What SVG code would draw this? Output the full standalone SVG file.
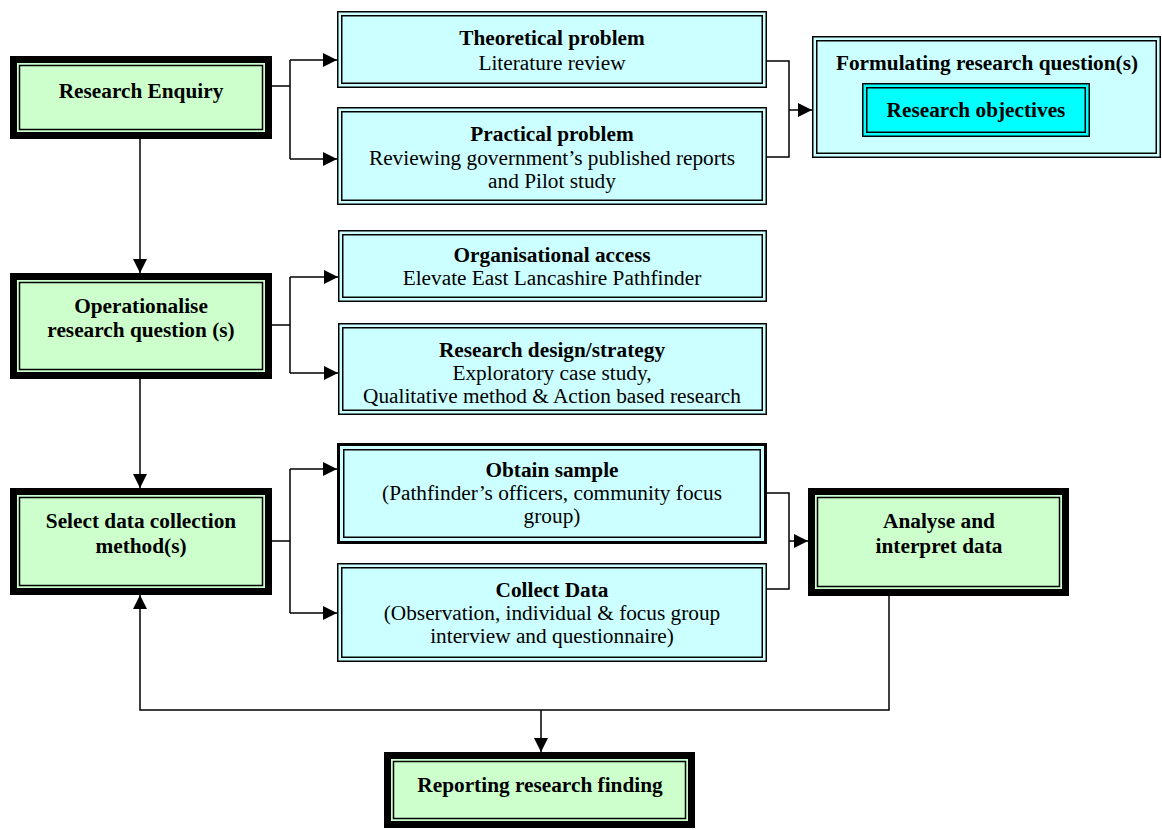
<svg xmlns="http://www.w3.org/2000/svg" width="1162" height="830" viewBox="0 0 1162 830">
  <style>
    .g-out { fill: #CCFFCC; stroke: #000; stroke-width: 7; }
    .g-in { fill: none; stroke: #000; stroke-width: 1.5; }
    .c-out { fill: #CCFFFF; stroke: #000; stroke-width: 1.5; }
    .c-out-heavy { fill: #CCFFFF; stroke: #000; stroke-width: 3; }
    .c-in { fill: none; stroke: #000; stroke-width: 1.5; }
    .obj { fill: #00FFFF; stroke: #000; stroke-width: 1.5; }
    .wire { fill: none; stroke: #000; stroke-width: 1.5; }
    .t { font-family: "Liberation Serif", "Times New Roman", serif; font-size: 21.3px; text-anchor: middle; fill: #000; }
    .b { font-weight: bold; }
  </style>
  <defs>
    <marker id="arrow" markerUnits="userSpaceOnUse" markerWidth="14" markerHeight="14" refX="14" refY="7" orient="auto">
      <path d="M0,0 L14,7 L0,14 z" fill="#000"/>
    </marker>
  </defs>

  <rect width="1162" height="830" fill="#fff"/>

  <!-- connectors -->
  <g id="connectors">
    <path class="wire" d="M272,86 H290 M290,60 V159"/>
    <path class="wire" d="M290,60 H337" marker-end="url(#arrow)"/>
    <path class="wire" d="M290,159 H337" marker-end="url(#arrow)"/>

    <path class="wire" d="M767,61 H789 V157 H767"/>
    <path class="wire" d="M789,110 H812" marker-end="url(#arrow)"/>

    <path class="wire" d="M140,139 V273" marker-end="url(#arrow)"/>

    <path class="wire" d="M272,325 H290 M290,277 V373"/>
    <path class="wire" d="M290,277 H338" marker-end="url(#arrow)"/>
    <path class="wire" d="M290,373 H338" marker-end="url(#arrow)"/>

    <path class="wire" d="M140,379 V488" marker-end="url(#arrow)"/>

    <path class="wire" d="M272,541 H290 M290,469 V613"/>
    <path class="wire" d="M290,469 H337" marker-end="url(#arrow)"/>
    <path class="wire" d="M290,613 H337" marker-end="url(#arrow)"/>

    <path class="wire" d="M767,493 H789 V589 H767"/>
    <path class="wire" d="M789,541 H808" marker-end="url(#arrow)"/>

    <path class="wire" d="M889,596 V710 H140 V595" marker-end="url(#arrow)"/>
    <path class="wire" d="M541,710 V752" marker-end="url(#arrow)"/>
  </g>

  <!-- main stages (green, heavy frame) -->
  <g id="research-enquiry">
    <rect class="g-out" x="13.5" y="59.5" width="255" height="76"/>
    <rect class="g-in" x="19.5" y="65.5" width="243" height="64"/>
    <text class="t b" x="141" y="98">Research Enquiry</text>
  </g>

  <g id="operationalise">
    <rect class="g-out" x="13.5" y="276.5" width="255" height="99"/>
    <rect class="g-in" x="19.5" y="282.5" width="243" height="87"/>
    <text class="t b" x="141" y="313">Operationalise</text>
    <text class="t b" x="141" y="337">research question (s)</text>
  </g>

  <g id="select-method">
    <rect class="g-out" x="13.5" y="491.5" width="255" height="100"/>
    <rect class="g-in" x="19.5" y="497.5" width="243" height="88"/>
    <text class="t b" x="141" y="528">Select data collection</text>
    <text class="t b" x="141" y="553">method(s)</text>
  </g>

  <g id="analyse">
    <rect class="g-out" x="811.5" y="491.5" width="254" height="101"/>
    <rect class="g-in" x="817.5" y="497.5" width="242" height="89"/>
    <text class="t b" x="939" y="528">Analyse and</text>
    <text class="t b" x="939" y="553">interpret data</text>
  </g>

  <g id="reporting">
    <rect class="g-out" x="387.5" y="755.5" width="304" height="69"/>
    <rect class="g-in" x="393.5" y="761.5" width="292" height="57"/>
    <text class="t b" x="540" y="792">Reporting research finding</text>
  </g>

  <!-- activities (cyan, double frame) -->
  <g id="theoretical">
    <rect class="c-out" x="337.75" y="11.75" width="428.5" height="75.5"/>
    <rect class="c-in" x="341.75" y="15.75" width="420.5" height="67.5"/>
    <text class="t b" x="552" y="45">Theoretical problem</text>
    <text class="t" x="552" y="70">Literature review</text>
  </g>

  <g id="practical">
    <rect class="c-out" x="337.75" y="107.75" width="428.5" height="96.5"/>
    <rect class="c-in" x="341.75" y="111.75" width="420.5" height="88.5"/>
    <text class="t b" x="552" y="141">Practical problem</text>
    <text class="t" x="552" y="165">Reviewing government’s published reports</text>
    <text class="t" x="552" y="188">and Pilot study</text>
  </g>

  <g id="formulating">
    <rect class="c-out" x="812.75" y="36.75" width="347.5" height="120.5"/>
    <rect class="c-in" x="816.75" y="40.75" width="339.5" height="112.5"/>
    <text class="t b" x="987" y="70">Formulating research question(s)</text>
    <g id="objectives">
      <rect class="obj" x="862.75" y="83.75" width="226.5" height="52.5"/>
      <rect class="c-in" x="866.75" y="87.75" width="218.5" height="44.5"/>
      <text class="t b" x="976" y="117">Research objectives</text>
    </g>
  </g>

  <g id="organisational-access">
    <rect class="c-out" x="338.75" y="230.75" width="427.5" height="70.5"/>
    <rect class="c-in" x="342.75" y="234.75" width="419.5" height="62.5"/>
    <text class="t b" x="552" y="262">Organisational access</text>
    <text class="t" x="552" y="285">Elevate East Lancashire Pathfinder</text>
  </g>

  <g id="research-design">
    <rect class="c-out" x="338.75" y="323.75" width="427.5" height="90.5"/>
    <rect class="c-in" x="342.75" y="327.75" width="419.5" height="82.5"/>
    <text class="t b" x="552" y="357">Research design/strategy</text>
    <text class="t" x="552" y="380">Exploratory case study,</text>
    <text class="t" x="552" y="403">Qualitative method &amp; Action based research</text>
  </g>

  <g id="obtain-sample">
    <rect class="c-out-heavy" x="338.5" y="444.5" width="427" height="98"/>
    <rect class="c-in" x="343.75" y="449.75" width="416.5" height="87.5"/>
    <text class="t b" x="552" y="477">Obtain sample</text>
    <text class="t" x="552" y="500">(Pathfinder’s officers, community focus</text>
    <text class="t" x="552" y="523">group)</text>
  </g>

  <g id="collect-data">
    <rect class="c-out" x="337.75" y="563.75" width="428.5" height="97.5"/>
    <rect class="c-in" x="341.75" y="567.75" width="420.5" height="89.5"/>
    <text class="t b" x="552" y="597">Collect Data</text>
    <text class="t" x="552" y="620">(Observation, individual &amp; focus group</text>
    <text class="t" x="552" y="643">interview and questionnaire)</text>
  </g>
</svg>
